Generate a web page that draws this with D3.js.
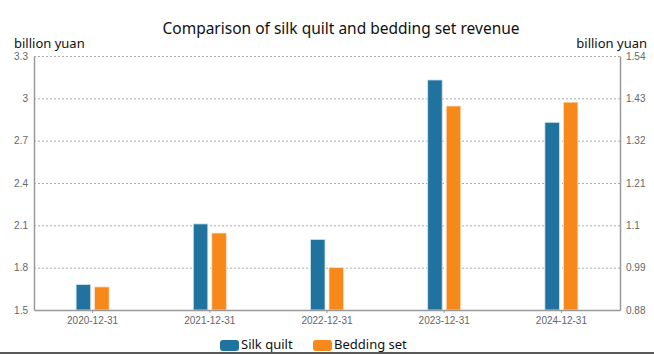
<!DOCTYPE html>
<html>
<head>
<meta charset="utf-8">
<script src="https://cdn.jsdelivr.net/npm/d3@7"></script>
<style>
  body { margin: 0; background: #fff; }
  svg { font-family: "Noto Sans", "Open Sans", sans-serif; display: block; }
  .grid line { stroke: #aaa; stroke-dasharray: 2,2; }
  .axis text { fill: #666; font-size: 10px; }
</style>
</head>
<body>
<svg id="chart" width="654" height="354"></svg>
<script>
const categories = ['2020-12-31', '2021-12-31', '2022-12-31', '2023-12-31', '2024-12-31'];
const silkQuilt = [1.68, 2.11, 2.00, 3.13, 2.83];
const beddingSet = [0.94, 1.08, 0.99, 1.41, 1.42];
const leftTicks = [1.5, 1.8, 2.1, 2.4, 2.7, 3, 3.3];
const rightTicks = [0.88, 0.99, 1.1, 1.21, 1.32, 1.43, 1.54];

const svg = d3.select('#chart');
const margin = { top: 56, left: 34, right: 34, bottom: 44 };
const width = 654 - margin.left - margin.right;
const height = 354 - margin.top - margin.bottom;

const x = d3.scaleBand().domain(categories).range([0, width]);
const yLeft = d3.scaleLinear().domain([1.5, 3.3]).range([height, 0]);
const yRight = d3.scaleLinear().domain([0.88, 1.54]).range([height, 0]);

// bottom frame line (drawn first so the legend sits over it)
svg.append('line')
  .attr('x1', 0)
  .attr('x2', 654)
  .attr('y1', 353)
  .attr('y2', 353)
  .attr('stroke', '#222')
  .attr('stroke-width', 1.5);

const g = svg.append('g').attr('transform', 'translate(' + margin.left + ',' + margin.top + ')');

// gridlines
g.append('g')
  .attr('class', 'grid')
  .selectAll('line')
  .data(leftTicks.slice(1))
  .enter()
  .append('line')
  .attr('x1', 0)
  .attr('x2', width)
  .attr('y1', d => yLeft(d) + 0.5)
  .attr('y2', d => yLeft(d) + 0.5);

const barW = 14.5, gap = 4;

g.selectAll('.silk')
  .data(silkQuilt)
  .enter()
  .append('rect')
  .attr('fill', '#21739f')
  .attr('stroke', '#cfe3ee')
  .attr('stroke-width', 0.8)
  .attr('x', (d, i) => x(categories[i]) + x.bandwidth() / 2 - gap / 2 - barW)
  .attr('y', d => yLeft(d))
  .attr('width', barW)
  .attr('height', d => height - yLeft(d));

g.selectAll('.bed')
  .data(beddingSet)
  .enter()
  .append('rect')
  .attr('fill', '#f6891a')
  .attr('stroke', '#fde0c0')
  .attr('stroke-width', 0.8)
  .attr('x', (d, i) => x(categories[i]) + x.bandwidth() / 2 + gap / 2)
  .attr('y', d => yRight(d))
  .attr('width', barW)
  .attr('height', d => height - yRight(d));

// axes
const styleAxis = (sel) => {
  sel.select('.domain').attr('stroke', '#999').attr('stroke-width', 1.5);
  sel.selectAll('.tick line').attr('stroke', '#999');
};

g.append('g')
  .attr('class', 'axis')
  .call(d3.axisLeft(yLeft).tickValues(leftTicks).tickSize(0).tickPadding(6).tickFormat(d3.format('~g')))
  .call(styleAxis);

g.append('g')
  .attr('class', 'axis')
  .attr('transform', 'translate(' + width + ',0)')
  .call(d3.axisRight(yRight).tickValues(rightTicks).tickSize(0).tickPadding(6).tickFormat(d3.format('~g')))
  .call(styleAxis);

g.append('g')
  .attr('class', 'axis')
  .attr('transform', 'translate(0,' + height + ')')
  .call(d3.axisBottom(x).tickSize(3).tickSizeOuter(0).tickPadding(4))
  .call(styleAxis);

// titles
svg.append('text')
  .attr('x', 341)
  .attr('y', 34)
  .attr('text-anchor', 'middle')
  .attr('font-size', 15.5)
  .attr('fill', '#111')
  .text('Comparison of silk quilt and bedding set revenue');

svg.append('text')
  .attr('x', 14)
  .attr('y', 48)
  .attr('font-size', 13)
  .attr('fill', '#111')
  .text('billion yuan');

svg.append('text')
  .attr('x', 647)
  .attr('y', 48)
  .attr('text-anchor', 'end')
  .attr('font-size', 13)
  .attr('fill', '#111')
  .text('billion yuan');

// legend
const legend = [
  { label: 'Silk quilt', color: '#21739f', x: 220 },
  { label: 'Bedding set', color: '#f6891a', x: 313 }
];
const lg = svg.append('g').selectAll('g').data(legend).enter().append('g')
  .attr('transform', d => 'translate(' + d.x + ',337)');
lg.append('rect')
  .attr('y', 3)
  .attr('width', 19)
  .attr('height', 11)
  .attr('rx', 3)
  .attr('fill', d => d.color);
lg.append('text')
  .attr('x', 21)
  .attr('y', 12)
  .attr('font-size', 13)
  .attr('fill', '#111')
  .text(d => d.label);
</script>
</body>
</html>
